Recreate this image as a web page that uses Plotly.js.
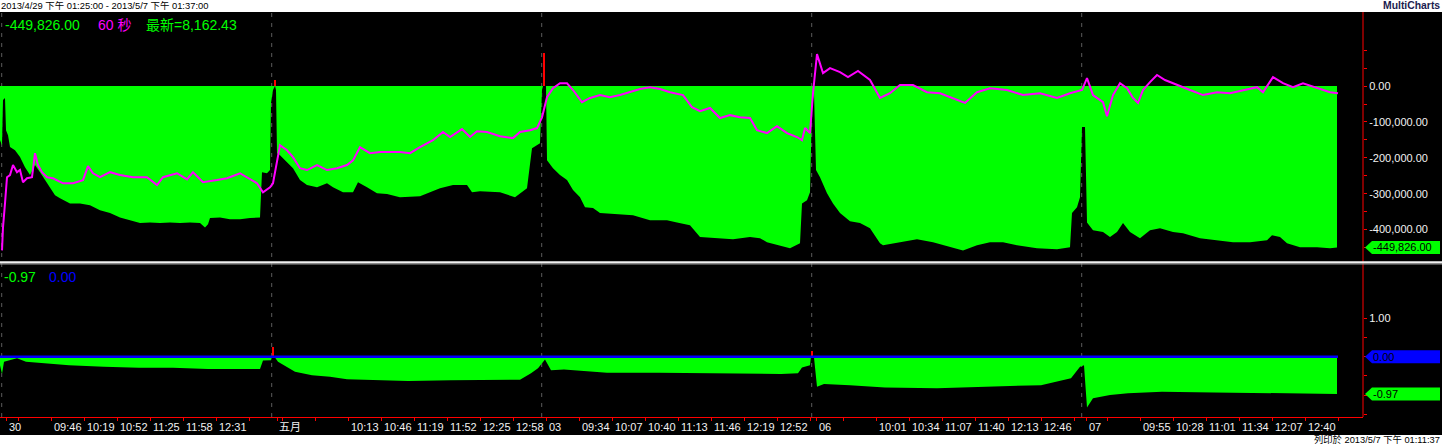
<!DOCTYPE html>
<html><head><meta charset="utf-8">
<script src="https://cdn.plot.ly/plotly-3.0.1.min.js"></script>
<style>html,body{margin:0;padding:0;background:#fff;overflow:hidden}#chart{width:1442px;height:445px}</style>
</head><body><div id="chart"></div>
<script>
// ---------- DATA (x = bar position, one bar per minute) ----------
// Upper indicator histogram (negative part, green)
const histBars = [0,2,3,5,6,8,10,15,20,25,30,35,40,45,50,55,60,70,80,90,100,110,120,130,140,150,160,170,180,190,200,205,208,210,220,230,240,250,260,262,267,270,271,273,275,276,277,280,287,293,300,307,317,327,333,343,353,358,367,377,387,400,420,440,453,467,472,480,500,510,515,527,532,540,542,543,546,547,553,560,567,573,580,585,593,600,617,633,650,667,677,690,700,717,733,750,760,767,780,790,800,802,807,810,812,814,816,820,827,833,840,850,860,870,880,883,900,917,933,950,963,977,990,1003,1017,1037,1057,1070,1072,1077,1080,1082,1085,1087,1093,1103,1110,1117,1123,1130,1140,1150,1160,1173,1183,1200,1217,1233,1250,1267,1272,1280,1287,1300,1317,1330,1337];
const histVals = [-151000,-165000,-39000,-33000,-123000,-137000,-170000,-179000,-198000,-226000,-248000,-220000,-240000,-262000,-282000,-304000,-313000,-327000,-327000,-332000,-346000,-354000,-366000,-374000,-382000,-380000,-382000,-380000,-382000,-380000,-382000,-394000,-385000,-368000,-366000,-371000,-371000,-368000,-366000,-240000,-243000,-234000,-47000,-11000,0,-11000,-187000,-193000,-212000,-229000,-262000,-276000,-282000,-271000,-282000,-296000,-296000,-268000,-282000,-299000,-301000,-310000,-307000,-285000,-276000,-276000,-296000,-293000,-296000,-304000,-310000,-285000,-173000,-159000,-11000,0,0,-207000,-229000,-248000,-262000,-290000,-310000,-338000,-340000,-354000,-357000,-360000,-374000,-374000,-380000,-388000,-421000,-424000,-427000,-421000,-424000,-435000,-444000,-452000,-438000,-327000,-318000,-296000,-53000,-20000,-234000,-254000,-299000,-327000,-354000,-377000,-382000,-396000,-438000,-444000,-435000,-427000,-435000,-447000,-458000,-444000,-435000,-435000,-444000,-452000,-455000,-449000,-354000,-338000,-310000,-114000,-114000,-380000,-402000,-407000,-421000,-407000,-382000,-407000,-424000,-402000,-396000,-407000,-410000,-424000,-430000,-435000,-435000,-430000,-416000,-421000,-438000,-449000,-449000,-452000,-449826];
// Upper histogram positive bars (red)
const redBarsUp = [275, 544];
const redValsUp = [17000, 92000];
// Upper magenta line
const lineBars = [2,3,5,7,10,13,17,20,23,27,32,35,38,42,47,53,63,73,83,88,93,100,110,120,133,147,157,163,177,187,193,203,217,227,240,247,257,263,270,273,277,280,287,293,300,307,317,327,337,347,353,360,370,380,390,400,410,420,433,443,450,462,470,477,487,500,513,520,530,537,542,547,553,560,567,573,582,590,600,610,620,630,640,650,660,670,683,692,700,710,720,730,740,750,757,767,777,787,797,802,805,810,813,817,820,823,830,840,848,858,870,880,890,900,913,927,940,953,965,977,990,1007,1023,1040,1057,1070,1082,1087,1093,1103,1107,1113,1120,1127,1133,1138,1143,1150,1157,1165,1177,1190,1203,1217,1230,1243,1257,1263,1273,1283,1293,1303,1317,1330,1338];
const lineVals = [-458000,-394000,-327000,-254000,-248000,-220000,-240000,-234000,-268000,-257000,-254000,-187000,-220000,-240000,-254000,-257000,-271000,-271000,-262000,-223000,-243000,-254000,-240000,-248000,-254000,-254000,-276000,-254000,-243000,-260000,-240000,-268000,-262000,-257000,-243000,-254000,-271000,-296000,-282000,-271000,-207000,-165000,-179000,-198000,-229000,-234000,-220000,-234000,-229000,-220000,-207000,-170000,-187000,-184000,-184000,-184000,-187000,-170000,-151000,-128000,-142000,-120000,-142000,-126000,-128000,-140000,-145000,-128000,-123000,-117000,-87000,-31000,-6000,8000,8000,-11000,-45000,-33000,-25000,-31000,-25000,-17000,-8000,-3000,-8000,-17000,-25000,-59000,-70000,-61000,-89000,-81000,-87000,-89000,-123000,-131000,-112000,-131000,-142000,-151000,-117000,-131000,-20000,89000,64000,36000,50000,39000,25000,42000,17000,-33000,-20000,3000,3000,-17000,-20000,-33000,-47000,-17000,-6000,-11000,-25000,-20000,-33000,-20000,-11000,22000,-25000,-45000,-84000,-25000,8000,-6000,-33000,-47000,-11000,11000,31000,17000,3000,-11000,-25000,-17000,-20000,-11000,-3000,-17000,25000,8000,-3000,8000,-6000,-17000,-20000];
// Lower indicator histogram (negative part, green)
const lowBars = [0,2,4,9,17,26,43,69,104,139,173,208,260,263,271,272,274,275,278,286,295,312,330,347,373,408,451,486,520,531,538,545,551,564,590,607,659,694,746,781,798,802,810,811,813,814,817,824,850,885,937,989,1041,1071,1080,1084,1087,1093,1110,1128,1162,1214,1266,1301,1337];
const lowVals = [-0.22,-0.45,-0.13,-0.09,-0.04,-0.13,-0.16,-0.22,-0.26,-0.29,-0.29,-0.32,-0.32,-0.10,-0.09,0,0,-0.02,-0.13,-0.26,-0.39,-0.48,-0.52,-0.59,-0.61,-0.63,-0.61,-0.61,-0.60,-0.43,-0.30,-0.07,-0.35,-0.33,-0.39,-0.42,-0.42,-0.43,-0.43,-0.45,-0.43,-0.28,-0.22,0,0,-0.02,-0.78,-0.71,-0.74,-0.80,-0.82,-0.78,-0.74,-0.56,-0.26,-0.22,-1.32,-1.08,-1.00,-0.95,-0.91,-0.93,-0.94,-0.95,-0.97];
const redBarsLow = [273, 812];
const redValsLow = [0.25, 0.15];
// Lower blue reference series
const zeroBars = [0, 1338];
const zeroVals = [0, 0];
// Session breaks and x tick labels
const sessionBreaks = [1.7, 271.7, 541.7, 811.7, 1081.7];
const xTickPos = [6.7,18.5,51.5,84.5,117.5,150.5,183.5,216.5,249.5,277,282.5,315.5,348.5,381.5,414.5,447.5,480.5,513.5,546.6,579.5,612.5,645.5,678.5,711.5,744.5,777.5,810.5,816.7,843.5,876.5,909.5,942.5,975.5,1008.5,1041.5,1074.5,1086.7,1107.5,1140.5,1173.5,1206.5,1239.5,1272.5,1305.5,1338.5];
const xTickText = ['30','','09:46','10:19','10:52','11:25','11:58','12:31','','五月','','','10:13','10:46','11:19','11:52','12:25','12:58','03','09:34','10:07','10:40','11:13','11:46','12:19','12:52','','06','','10:01','10:34','11:07','11:40','12:13','12:46','','07','','09:55','10:28','11:01','11:34','12:07','12:40',''];
const upTickVals = [0,-100000,-200000,-300000,-400000];
const upTickText = ['0.00','-100,000.00','-200,000.00','-300,000.00','-400,000.00'];
const upMinor = [100000,50000,-50000,-150000,-250000,-350000,-450000];
const lowTickVals = [1];
const lowTickText = ['1.00'];
const lowMinor = [0.5,0,-0.5,-1.0,-1.5];
const lastHist = -449826.00, lastHistText = '-449,826.00';
const lastLow = -0.97, lastLowText = '-0.97';
const lastZero = 0, lastZeroText = '0.00';

// ---------- LAYOUT ----------
const FONT = 'Liberation Sans, Arial, "Noto Sans CJK TC", sans-serif';
const PW = 1363, PH = 405, AXY = 417;
const xp = px => px / PW;
const yp = py => (AXY - py) / PH;
const GREEN = '#00FF00', RED = '#FF0000', MAG = '#FF00FF', BLUE = '#0000FF';

const traces = [
  {type:'scatter', mode:'lines', x:histBars, y:histVals, fill:'tozeroy', fillcolor:GREEN, line:{width:0, color:GREEN}, xaxis:'x', yaxis:'y', hoverinfo:'skip'},
  {type:'bar', x:redBarsUp, y:redValsUp, width:[1.5,2.5], marker:{color:RED, line:{width:0}}, xaxis:'x', yaxis:'y', hoverinfo:'skip'},
  {type:'scatter', mode:'lines', x:lineBars, y:lineVals, line:{width:2, color:MAG}, xaxis:'x', yaxis:'y', hoverinfo:'skip'},
  {type:'scatter', mode:'lines', x:lowBars, y:lowVals, fill:'tozeroy', fillcolor:GREEN, line:{width:0, color:GREEN}, xaxis:'x', yaxis:'y2', hoverinfo:'skip'},
  {type:'bar', x:redBarsLow, y:redValsLow, width:[2,2], marker:{color:RED, line:{width:0}}, xaxis:'x', yaxis:'y2', hoverinfo:'skip'},
  {type:'scatter', mode:'lines', x:zeroBars, y:zeroVals, line:{width:2.5, color:BLUE}, xaxis:'x', yaxis:'y2', hoverinfo:'skip'}
];

const shapes = [
  {type:'rect', xref:'paper', yref:'paper', x0:-0.01, x1:1.07, y0:yp(435), y1:1, fillcolor:'#000', line:{width:0}, layer:'below'}
];
sessionBreaks.forEach(b => {
  shapes.push({type:'line', xref:'x', yref:'paper', x0:b, x1:b, y0:0, y1:1, line:{color:'#5a5a5a', width:1, dash:'4px,6px'}, layer:'below'});
});
// right axis red line
shapes.push({type:'line', xref:'paper', yref:'paper', x0:1, x1:1, y0:0, y1:1, line:{color:RED, width:1}});
// separator between panes
shapes.push({type:'rect', xref:'paper', yref:'paper', x0:-0.01, x1:1.07, y0:yp(263.6), y1:yp(261.3), fillcolor:'#F0F0F0', line:{width:0}});
shapes.push({type:'rect', xref:'paper', yref:'paper', x0:-0.01, x1:1.07, y0:yp(264.6), y1:yp(263.6), fillcolor:'#9A9A9A', line:{width:0}});
// value marker boxes
function box(yref, val, color){
  return {type:'path', xref:'paper', xsizemode:'pixel', xanchor:1, yref:yref, ysizemode:'pixel', yanchor:val,
    path:'M 2 0 L 9 6.5 L 77 6.5 L 77 -6.5 L 9 -6.5 Z', fillcolor:color, line:{width:0}};
}
shapes.push(box('y', lastHist, GREEN));
shapes.push(box('y2', lastZero, BLUE));
shapes.push(box('y2', lastLow, GREEN));

const ann = [];
function txt(text, x, y, color, size, anchor, extra){
  ann.push(Object.assign({text:text, xref:'paper', yref:'paper', x:x, y:y, xanchor:anchor||'left', yanchor:'middle', showarrow:false, font:{family:FONT, size:size, color:color}, borderpad:0}, extra||{}));
}
txt('2013/4/29 下午 01:25:00 - 2013/5/7 下午 01:37:00', xp(0), yp(6), '#000', 9.4);
txt('<b>MultiCharts</b>', xp(1441), yp(6), '#1c1c50', 10.4, 'right');
txt('列印於 2013/5/7 下午 01:11:37', xp(1441), yp(440), '#000', 9.3, 'right');
txt('-449,826.00', xp(4), yp(25), GREEN, 14);
txt('60 秒', xp(97), yp(25), MAG, 14);
txt('最新=8,162.43', xp(145), yp(25), GREEN, 14);
txt('-0.97', xp(3), yp(277), GREEN, 14);
txt('0.00', xp(48), yp(277), BLUE, 14);
function boxText(yref, val, text){
  ann.push({text:text, xref:'paper', x:1, xshift:9, xanchor:'left', yref:yref, y:val, yanchor:'middle', showarrow:false, borderpad:0, font:{family:FONT, size:11, color:'#000'}});
}
boxText('y', lastHist, lastHistText);
boxText('y2', lastZero, lastZeroText);
boxText('y2', lastLow, lastLowText);

const tickFont = {family:FONT, size:11, color:'#F2F2F2'};
// x-axis time labels, left-aligned at their tick (MultiCharts style)
xTickPos.forEach((p, i) => {
  if (!xTickText[i]) return;
  ann.push({text:xTickText[i], xref:'x', x:p, xanchor:'left', xshift:1, yref:'paper', y:yp(426.5), yanchor:'middle',
    showarrow:false, borderpad:0, font:tickFont});
});

const layout = {
  width:1442, height:445,
  margin:{l:0, r:79, t:12, b:28, pad:0},
  paper_bgcolor:'#FFFFFF', plot_bgcolor:'rgba(0,0,0,0)',
  showlegend:false, barmode:'overlay', bargap:0,
  xaxis:{range:[0,PW], anchor:'y2', showgrid:false, zeroline:false, showline:true, linecolor:RED, linewidth:1,
    tickmode:'array', tickvals:xTickPos, showticklabels:false, ticks:'outside', ticklen:3, tickcolor:RED, tickwidth:1,
    fixedrange:true},
  yaxis:{domain:[yp(261.3), 1], range:[-488420, 206530], side:'right', showgrid:false, zeroline:false, showline:false,
    tickmode:'array', tickvals:upTickVals, ticktext:upTickText, ticks:'outside', ticklen:3, tickcolor:RED, tickwidth:1, tickfont:tickFont,
    minor:{tickmode:'array', tickvals:upMinor, ticks:'outside', ticklen:3, tickcolor:RED, tickwidth:1, showgrid:false}, fixedrange:true},
  yaxis2:{domain:[0, yp(266)], range:[-1.570, 2.362], side:'right', anchor:'x', showgrid:false, zeroline:false, showline:false,
    tickmode:'array', tickvals:lowTickVals, ticktext:lowTickText, ticks:'outside', ticklen:3, tickcolor:RED, tickwidth:1, tickfont:tickFont,
    minor:{tickmode:'array', tickvals:lowMinor, ticks:'outside', ticklen:3, tickcolor:RED, tickwidth:1, showgrid:false}, fixedrange:true},
  shapes:shapes,
  annotations:ann
};
Plotly.newPlot('chart', traces, layout, {staticPlot:true, displayModeBar:false});
</script></body></html>
